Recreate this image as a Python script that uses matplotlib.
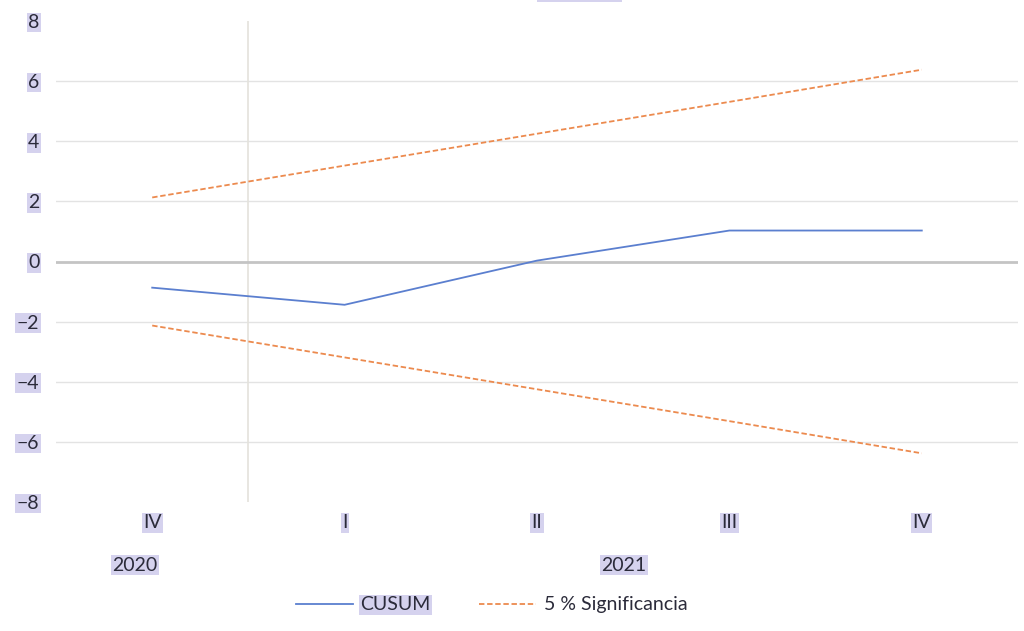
import matplotlib
matplotlib.use('Agg')
import matplotlib.pyplot as plt
from matplotlib.patches import Rectangle
import numpy as np

plt.rcParams['font.family'] = ['Lato', 'DejaVu Sans']
plt.rcParams['font.size'] = 14

quarters = ['IV', 'I', 'II', 'III', 'IV']
years = ['2020', '2021']
cusum = [-0.87, -1.44, 0.03, 1.03, 1.03]
upper = [2.13, 3.19, 4.25, 5.31, 6.38]
lower = [-2.13, -3.19, -4.25, -5.31, -6.38]
yticks = [-8, -6, -4, -2, 0, 2, 4, 6, 8]

hl = '#d5d2ee'
txt = '#2b2b3a'

fig = plt.figure(figsize=(10.24, 6.31), dpi=100)
ax = fig.add_axes([56/1024, 1-502/631, 962/1024, 481/631])

x = np.arange(len(quarters))

for v in yticks[1:-1]:
    if v != 0:
        ax.axhline(v, color='#e3e3e3', lw=1, zorder=0)
ax.axhline(0, color='#c4c4c4', lw=2, zorder=1)
# year separator
ax.axvline(0.5, color='#e4e2dc', lw=1.2, zorder=0)

ax.plot(x, cusum, color='#5b7fcf', lw=1.3, label='CUSUM', zorder=3)
ax.plot(x, upper, color='#ec8a4e', lw=1.3, ls=(0, (3, 1.5)), label='5 % Significancia', zorder=3)
ax.plot(x, lower, color='#ec8a4e', lw=1.3, ls=(0, (3, 1.5)), zorder=3)

ax.set_xlim(-0.5, len(quarters) - 0.5)
ax.set_ylim(-8, 8)
ax.set_yticks(yticks)
ax.set_xticks(x)
ax.set_xticklabels(quarters)
ax.tick_params(axis='y', length=0, pad=12, labelcolor=txt)
ax.tick_params(axis='x', length=0, pad=9, labelcolor=txt)
for s in ax.spines.values():
    s.set_visible(False)

for lab in ax.get_xticklabels() + ax.get_yticklabels():
    lab.set_bbox(dict(facecolor=hl, edgecolor='none', pad=1))

year_pos = [-0.09, 2.45]
for yr, px in zip(years, year_pos):
    ax.text(px, -10.1, yr, ha='center', va='center', color=txt,
            bbox=dict(facecolor=hl, edgecolor='none', pad=1))

leg = ax.legend(loc='upper center', bbox_to_anchor=(0.453, -0.16), ncol=2,
                frameon=False, handlelength=2.9, columnspacing=2.5, handletextpad=0.4)
for t in leg.get_texts():
    t.set_color(txt)
leg.get_texts()[0].set_bbox(dict(facecolor=hl, edgecolor='none', pad=1))

fig.patches.append(Rectangle((537/1024, 1-2/631), 85/1024, 2/631,
                             transform=fig.transFigure, facecolor=hl, edgecolor='none'))

fig.savefig('out.png', dpi=100)
